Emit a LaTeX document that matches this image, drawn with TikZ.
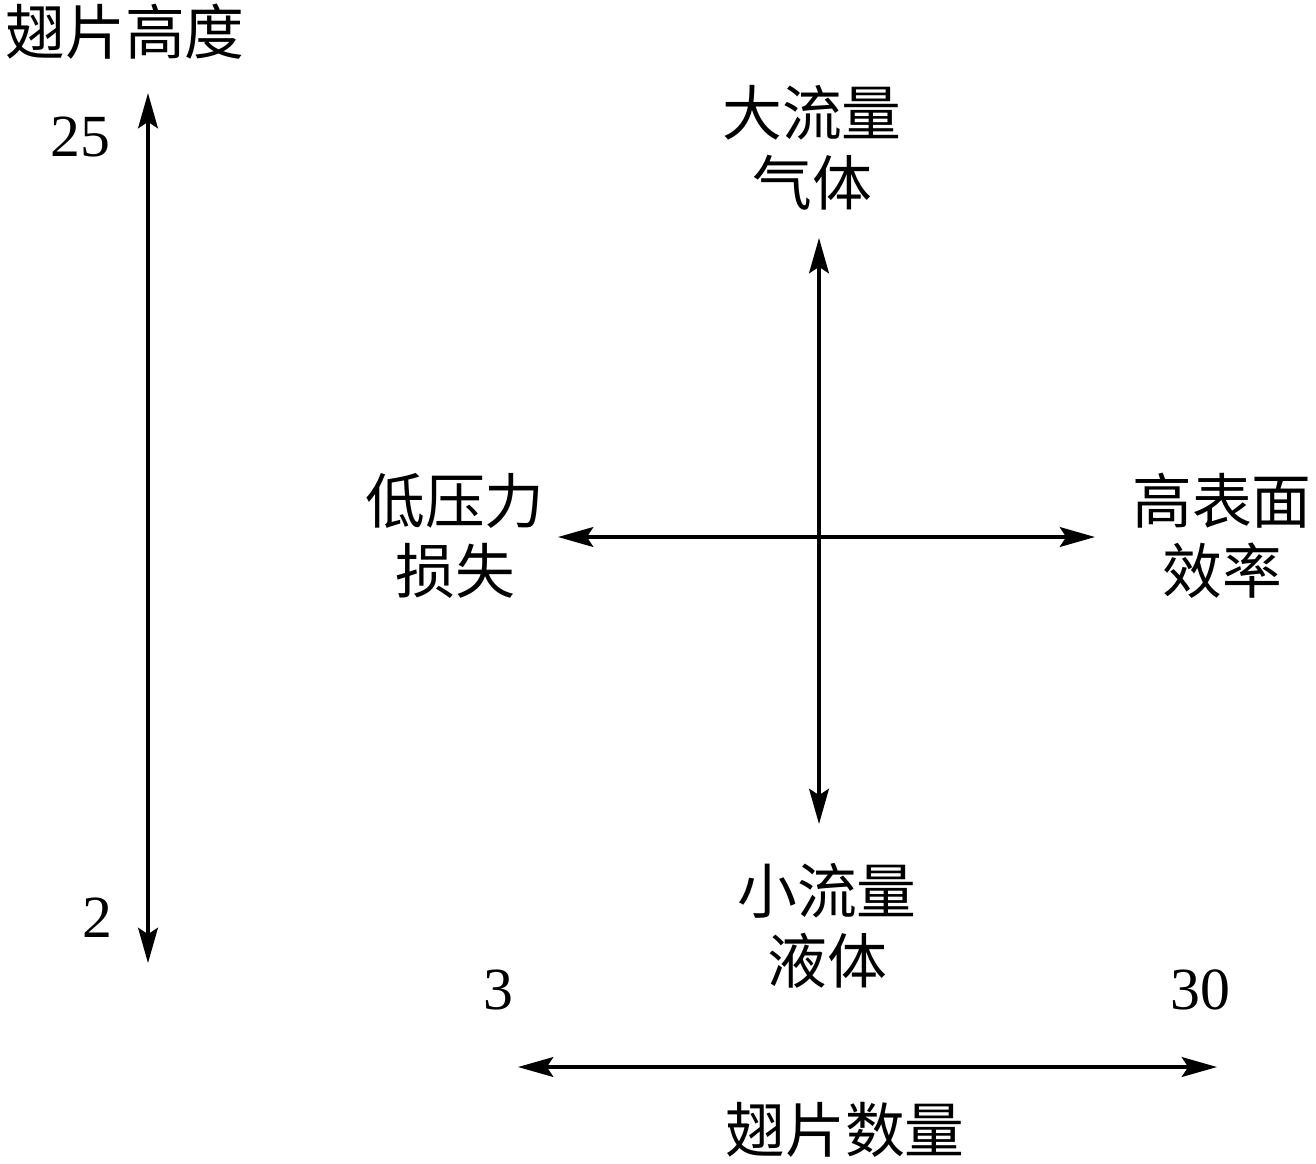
\documentclass[tikz,border=0pt]{standalone}
\usepackage{fontspec}
\setmainfont{Liberation Serif}
\newfontfamily\cjk{Noto Sans CJK SC}
\usetikzlibrary{arrows.meta}
\tikzset{
  label/.style={font=\cjk\fontsize{17}{20}\selectfont, align=center, inner sep=0pt},
  num/.style={font=\fontsize{17}{20}\selectfont, inner sep=0pt},
  axis/.style={line width=1.1pt, {Stealth[length=10pt,width=5.6pt,inset=1.8pt]}-{Stealth[length=10pt,width=5.6pt,inset=1.8pt]}}
}
\begin{document}
\begin{tikzpicture}[x=0.01cm,y=-0.01cm]
  \useasboundingbox (0,0) rectangle (1316,1163);
  % fin height scale
  \node[label] (height) at (125,32) {翅片高度};
  \node[num] (hmax) at (80,137) {25};
  \node[num] (hmin) at (97,918) {2};
  \coordinate (htop) at (148,93);
  \coordinate (hbot) at (148,963);
  \draw[axis] (htop) -- (hbot);
  %
  \node[label] (gas) at (812,148) {大流量\\气体};
  \node[label] (liquid) at (827,926) {小流量\\液体};
  \node[label] (loss) at (455,536) {低压力\\损失};
  \node[label] (eff) at (1222,536) {高表面\\效率};
  \coordinate (up) at (819,238);
  \coordinate (down) at (819,824);
  \coordinate (left) at (558,537);
  \coordinate (right) at (1095,537);
  \draw[axis] (up) -- (down);
  \draw[axis] (left) -- (right);
  %
  % fin count scale
  \node[num] (nmin) at (498,990) {3};
  \node[num] (nmax) at (1200,990) {30};
  \coordinate (nleft) at (518,1067);
  \coordinate (nright) at (1217,1067);
  \draw[axis] (nleft) -- (nright);
  \node[label] (count) at (845,1130) {翅片数量};
  %
\end{tikzpicture}
\end{document}
